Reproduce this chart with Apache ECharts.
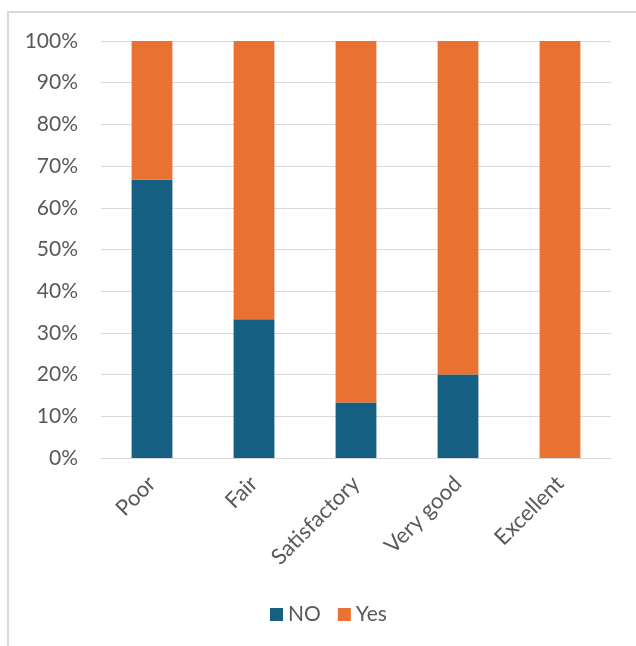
<!DOCTYPE html>
<html>
<head>
<meta charset="utf-8">
<script src="https://cdn.jsdelivr.net/npm/echarts@6/dist/echarts.min.js"></script>
<style>
  html, body { margin: 0; padding: 0; background: #fff; }
  #chart { width: 636px; height: 646px; }
</style>
</head>
<body>
<div id="chart"></div>
<script>
// survey answers per rating, shares in percent
const categories = ['Poor', 'Fair', 'Satisfactory', 'Very good', 'Excellent']
const noValues = [66.7, 33.3, 13.3, 20, 0]
const yesValues = [33.3, 66.7, 86.7, 80, 100]

const textColor = '#595959'
const font = 'Lato'

const myChart = echarts.init(document.getElementById('chart'))

const option = {
    animation: false,
    textStyle: { fontFamily: font },
    graphic: [
        {
            type: 'rect',
            shape: { x: 8, y: 12, width: 700, height: 700 },
            style: { fill: 'none', stroke: '#d9d9d9', lineWidth: 2 },
            silent: true
        }
    ],
    grid: { left: 101, right: 25, top: 41, bottom: 188 },
    legend: {
        bottom: 16,
        left: 265,
        itemWidth: 13,
        itemHeight: 13,
        itemGap: 17,
        icon: 'rect',
        textStyle: { color: textColor, fontSize: 21, fontFamily: font },
        data: ['NO', 'Yes']
    },
    xAxis: {
        type: 'category',
        data: categories,
        axisLine: { lineStyle: { color: '#d9d9d9', width: 1 } },
        axisTick: { show: false },
        axisLabel: {
            rotate: 45,
            margin: 22,
            color: textColor,
            fontSize: 22,
            fontFamily: font,
            interval: 0
        }
    },
    yAxis: {
        type: 'value',
        min: 0,
        max: 100,
        interval: 10,
        axisLine: { show: false },
        axisTick: { show: false },
        splitLine: { lineStyle: { color: '#d9d9d9', width: 1 } },
        axisLabel: {
            formatter: '{value}%',
            margin: 23,
            color: textColor,
            fontSize: 21,
            fontFamily: font
        }
    },
    series: [
        {
            name: 'NO',
            type: 'bar',
            stack: 'total',
            barWidth: '40%',
            itemStyle: { color: '#156082' },
            data: noValues
        },
        {
            name: 'Yes',
            type: 'bar',
            stack: 'total',
            barWidth: '40%',
            itemStyle: { color: '#E97132' },
            data: yesValues
        }
    ]
}

myChart.setOption(option)
</script>
</body>
</html>
